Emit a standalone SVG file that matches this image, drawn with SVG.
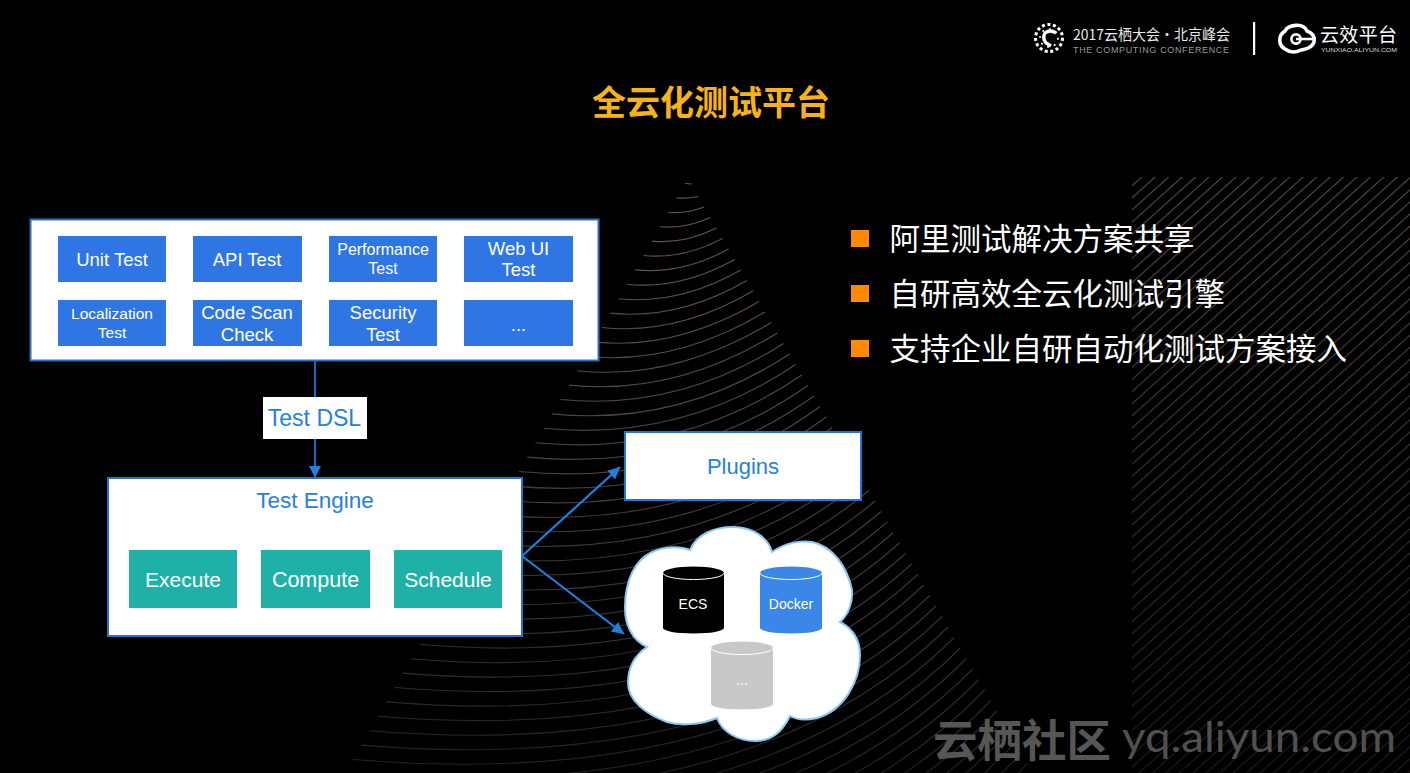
<svg xmlns="http://www.w3.org/2000/svg" width="1410" height="773" viewBox="0 0 1410 773">
<style>
.s{font-family:"Liberation Sans",Arial,sans-serif}
.c{font-family:"Noto Sans CJK SC","Noto Sans",sans-serif}
.m{text-anchor:middle}
.inner{fill:#2f76e4}
.it{fill:#fff;text-anchor:middle;font-family:"Liberation Sans",Arial,sans-serif}
.panel{fill:#fff;stroke:#2a70c4;stroke-width:2}
.teal{fill:#1fb0a8}
.bl{fill:#2680dc;text-anchor:middle;font-family:"Liberation Sans",Arial,sans-serif;font-size:22px}
.bul{fill:#ff8a00}
.bt{fill:#fff;font-size:30.5px;font-family:"Noto Sans CJK SC","Noto Sans",sans-serif}
.line{stroke:#1f80e0;stroke-width:2.2;fill:none}
.thin{stroke:#2068c0;stroke-width:2;fill:none}
.cap{stroke:#fff;stroke-width:1;fill:none}
</style>
<defs>
<linearGradient id="arcG" gradientUnits="userSpaceOnUse" x1="0" y1="180" x2="0" y2="773">
<stop offset="0" stop-color="#6a5848"/><stop offset="0.5" stop-color="#4c4038"/><stop offset="1" stop-color="#242120"/>
</linearGradient>
<pattern id="hatch" patternUnits="userSpaceOnUse" width="20" height="9" patternTransform="rotate(-42)">
<line x1="0" y1="4.5" x2="20" y2="4.5" stroke="#5a4c42" stroke-width="1.1"/>
</pattern>
<linearGradient id="fade" x1="0" y1="0" x2="0" y2="1">
<stop offset="0" stop-color="#000" stop-opacity="0"/><stop offset="1" stop-color="#000" stop-opacity="0.65"/>
</linearGradient>
<marker id="arr" markerUnits="userSpaceOnUse" markerWidth="14" markerHeight="14" refX="12" refY="6" orient="auto">
<path d="M0 0L12 6L0 12Z" fill="#1f80e0"/>
</marker>
</defs>
<rect width="1410" height="773" fill="#000"/>
<g id="background">
<rect x="1132" y="177" width="278" height="596" fill="url(#hatch)"/>
<rect x="1132" y="177" width="278" height="596" fill="url(#fade)"/>
<path fill="none" stroke="url(#arcG)" stroke-width="1.1" d="M685 183.5Q689 183.5 692 184M676.7 197.9Q687.8 198.7 698.1 196.5M668.4 212.3Q686.5 213.9 704.2 207M660.1 226.7Q685.3 229.1 710.3 217.5M651.8 241.1Q684 244.3 716.4 228M643.5 255.5Q682.8 259.5 722.5 238.5M635.2 269.9Q681.5 274.7 728.6 249M626.9 284.3Q680.3 289.9 734.7 259.5M618.6 298.7Q679 305.1 740.8 270M610.3 313.1Q677.8 320.3 746.9 280.5M602 327.5Q676.5 335.5 753 291M593.7 341.9Q675.3 350.7 759.1 301.5M585.4 356.3Q674 365.9 765.2 312M577.1 370.7Q673 381.1 771.3 322.5M568.8 385.1Q675 396.3 777.4 333M560.5 399.5Q677 411.5 783.5 343.5M552.2 413.9Q678.5 426.7 789.6 354M543.9 428.3Q680 441.9 795.7 364.5M535.6 442.7Q682 457.1 801.8 375M527.3 457.1Q684 472.3 807.9 385.5M519 471.5Q686 487.5 814 396M510.7 485.9Q688 502.7 820.1 406.5M502.4 500.3Q690 517.9 826.2 417M494.1 514.7Q691 533.1 832.3 427.5M485.8 529.1Q693 548.3 838.4 438M477.5 543.5Q695 563.5 844.5 448.5M469.2 557.9Q698 578.7 850.6 459M460.9 572.3Q701 593.9 856.7 469.5M452.6 586.7Q705 609.1 862.8 480M444.3 601.1Q708 624.3 868.9 490.5M436 615.5Q711 639.5 875 501M427.7 629.9Q714 654.7 881.1 511.5M419.4 644.3Q717 669.9 887.2 522M411.1 658.7Q721 685.1 893.3 532.5M402.8 673.1Q724 700.3 899.4 543M394.5 687.5Q727 715.5 905.5 553.5M386.2 701.9Q730 730.7 911.6 564M377.9 716.3Q733 745.9 917.7 574.5M369.6 730.7Q737 761.1 923.8 585M361.3 745.1Q740 776.3 929.9 595.5M353 759.5Q743 791.5 936 606M344.7 773.9Q746 806.7 942.1 616.5M336.4 788.3Q749 821.9 948.2 627M328.1 802.7Q753 837.1 954.3 637.5M319.8 817.1Q756 852.3 960.4 648M311.5 831.5Q759 867.5 966.5 658.5M303.2 845.9Q762 882.7 972.6 669M294.9 860.3Q765 897.9 978.7 679.5M286.6 874.7Q769 913.1 984.8 690M278.3 889.1Q772 928.3 990.9 700.5M270 903.5Q775 943.5 997 711M261.7 917.9Q778 958.7 1003.1 721.5M253.4 932.3Q781 973.9 1009.2 732M245.1 946.7Q785 989.1 1015.3 742.5M236.8 961.1Q788 1004.3 1021.4 753M228.5 975.5Q791 1019.5 1027.5 763.5M220.2 989.9Q794 1034.7 1033.6 774"/>
</g>
<g id="header">
<g id="logo-conference" fill="none" stroke="#fff">
<circle cx="1049" cy="38" r="13.5" stroke-width="3" stroke-dasharray="3 2.6"/>
<circle cx="1049" cy="38" r="9" stroke-width="1.6" stroke-dasharray="2 5"/>
<path d="M1056 33Q1050 29 1045 33Q1042 38 1046 43L1051 46" stroke-width="3.4"/>
</g>
<text class="c" x="1073" y="39.500" font-size="14.500" fill="#e8e8e8" textLength="157" lengthAdjust="spacingAndGlyphs">2017云栖大会·北京峰会</text>
<text class="s" x="1073" y="52.500" font-size="9" fill="#9a9a9a" textLength="156" lengthAdjust="spacing">THE COMPUTING CONFERENCE</text>
<rect x="1253" y="22" width="2.2" height="33" fill="#fff"/>
<g id="logo-yunxiao" fill="none" stroke="#fff">
<path d="M1285 31C1288 25 1303 22 1307 31C1313 33 1315 37 1314 42C1312 48 1306 49 1301 50C1295 53 1289 52 1285 49C1279 46 1277 36 1285 31Z" stroke-width="3.600"/>
<circle cx="1296" cy="39" r="4.600" stroke-width="2.600"/>
<path d="M1296 39H1314" stroke-width="2.600"/>
</g>
<text class="c" x="1320" y="41.500" font-size="19" fill="#fff" textLength="77" lengthAdjust="spacing">云效平台</text>
<text class="s" x="1321" y="51.500" font-size="6" fill="#ddd" textLength="76" lengthAdjust="spacingAndGlyphs">YUNXIAO.ALIYUN.COM</text>
</g>
<text id="title" class="c m" x="711" y="115" font-size="34" font-weight="700" fill="#f7b316">全云化测试平台</text>
<g id="bullets">
<rect class="bul" x="851" y="230" width="18" height="17"/>
<text class="bt" x="889.500" y="250">阿里测试解决方案共享</text>
<rect class="bul" x="851" y="285" width="18" height="17"/>
<text class="bt" x="889.500" y="305">自研高效全云化测试引擎</text>
<rect class="bul" x="851" y="340" width="18" height="17"/>
<text class="bt" x="889.500" y="360">支持企业自研自动化测试方案接入</text>
</g>
<g id="connectors">
<path class="thin" d="M315 360V397"/>
<path class="thin" d="M315 439V478" marker-end="url(#arr)"/>
<path class="line" d="M522 556L620 467" marker-end="url(#arr)"/>
<path class="line" d="M522 556L624 634" marker-end="url(#arr)"/>
</g>
<g id="test-types">
<rect class="panel" x="30.500" y="219.500" width="568" height="141"/>
<g id="unit-test"><rect class="inner" x="58" y="236" width="108" height="46"/><text class="it" x="112" y="265.500" font-size="18.500">Unit Test</text></g>
<g id="api-test"><rect class="inner" x="193" y="236" width="109" height="46"/><text class="it" x="247" y="265.500" font-size="18.500">API Test</text></g>
<g id="performance-test"><rect class="inner" x="329" y="236" width="108" height="46"/><text class="it" x="383" y="254.500" font-size="16">Performance</text><text class="it" x="383" y="273.500" font-size="16">Test</text></g>
<g id="web-ui-test"><rect class="inner" x="464" y="236" width="109" height="46"/><text class="it" x="518.500" y="255" font-size="18.500">Web UI</text><text class="it" x="518.500" y="276" font-size="18.500">Test</text></g>
<g id="localization-test"><rect class="inner" x="58" y="300" width="108" height="46"/><text class="it" x="112" y="318.500" font-size="15.500">Localization</text><text class="it" x="112" y="338" font-size="15.500">Test</text></g>
<g id="code-scan-check"><rect class="inner" x="193" y="300" width="109" height="46"/><text class="it" x="247" y="318.500" font-size="18.500">Code Scan</text><text class="it" x="247" y="340.500" font-size="18.500">Check</text></g>
<g id="security-test"><rect class="inner" x="329" y="300" width="108" height="46"/><text class="it" x="383" y="318.500" font-size="18.500">Security</text><text class="it" x="383" y="340.500" font-size="18.500">Test</text></g>
<g id="more-tests"><rect class="inner" x="464" y="300" width="109" height="46"/><text class="it" x="518.500" y="331" font-size="18.500">...</text></g>
</g>
<g id="test-dsl"><rect x="263" y="397" width="104" height="42" fill="#fff"/><text class="bl" x="314.500" y="426" font-size="23" style="font-size:23px">Test DSL</text></g>
<g id="test-engine">
<rect class="panel" x="108" y="478" width="414" height="158"/>
<text class="bl" x="315" y="508" style="font-size:22.500px">Test Engine</text>
<g id="execute"><rect class="teal" x="129" y="550" width="108" height="58"/><text class="it" x="183" y="587" font-size="21">Execute</text></g>
<g id="compute"><rect class="teal" x="261" y="550" width="109" height="58"/><text class="it" x="315.500" y="587" font-size="21.500">Compute</text></g>
<g id="schedule"><rect class="teal" x="394" y="550" width="108" height="58"/><text class="it" x="448" y="587" font-size="21">Schedule</text></g>
</g>
<g id="plugins"><rect x="625" y="432" width="236" height="68" fill="#fff" stroke="#1f78d8" stroke-width="2"/><text class="bl" x="743" y="474">Plugins</text></g>
<g id="cloud">
<path fill="#fff" stroke="#8cc8f5" stroke-width="2" d="M690 550C697 534 714 527 733 527C752 527 768 537 772 552C785 543 800 540 812 542C832 546 847 566 852 590C853 603 848 615 840 622C853 629 860 640 860 655C860 680 845 710 817 718C808 720 797 720 790 716C782 732 772 741 755 741C738 741 722 732 717 718C700 725 680 726 667 722C645 714 628 700 628 683C628 668 635 655 647 647C632 640 625 625 625 608C625 580 635 560 652 552C665 546 680 546 690 550Z"/>
<g id="ecs">
<path fill="#000" d="M663 573A30.500 6.500 0 0 1 724 573V628A30.500 5.500 0 0 1 663 628Z"/>
<path class="cap" d="M663 573A30.500 6.500 0 0 0 724 573"/>
<text class="it" x="693" y="609" font-size="14">ECS</text>
</g>
<g id="docker">
<path fill="#3a87e8" d="M760 573A31 6.500 0 0 1 822 573V628A31 5.500 0 0 1 760 628Z"/>
<path class="cap" d="M760 573A31 6.500 0 0 0 822 573"/>
<text class="it" x="791" y="609" font-size="14">Docker</text>
</g>
<g id="more-runtimes">
<path fill="#c8c8c8" d="M711 648A31 6.500 0 0 1 773 648V704A31 5.500 0 0 1 711 704Z"/>
<path class="cap" d="M711 648A31 6.500 0 0 0 773 648"/>
<text class="it" x="742" y="685" font-size="14">...</text>
</g>
</g>
<g id="watermark">
<text class="c" x="933" y="757" font-size="44.500" font-weight="700" fill="#565656">云栖社区</text>
<text x="1122" y="752" font-family="Lato,'Open Sans',sans-serif" font-size="42" fill="#505050" textLength="274" lengthAdjust="spacingAndGlyphs">yq.aliyun.com</text>
</g>
</svg>
